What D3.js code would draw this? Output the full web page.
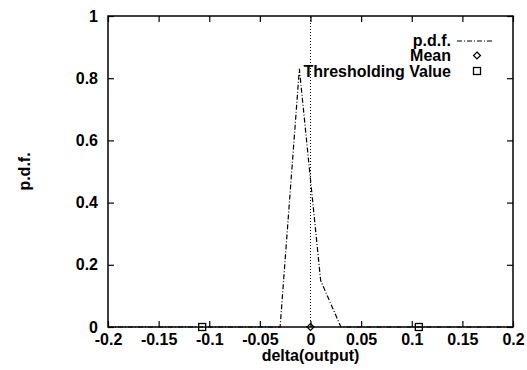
<!DOCTYPE html>
<html>
<head>
<meta charset="utf-8">
<script src="https://cdn.jsdelivr.net/npm/d3@7"></script>
<style>
  body { margin: 0; background: #fff; }
  text { font-family: "Liberation Sans", Arial, sans-serif; font-size: 16px; font-weight: bold; fill: #000; }
</style>
</head>
<body>
<div id="chart-area"></div>
<script>
// data
const xTicks = [-0.2, -0.15, -0.1, -0.05, 0, 0.05, 0.1, 0.15, 0.2];
const xTickLabels = ["-0.2", "-0.15", "-0.1", "-0.05", "0", "0.05", "0.1", "0.15", "0.2"];
const yTicks = [0, 0.2, 0.4, 0.6, 0.8, 1];
const yTickLabels = ["0", "0.2", "0.4", "0.6", "0.8", "1"];

const pdfX = [-0.2, -0.03, -0.011, 0.01, 0.03, 0.2];
const pdfY = [0, 0, 0.83, 0.15, 0, 0];
const meanX = [0];
const meanY = [0];
const threshX = [-0.107, 0.107];
const threshY = [0, 0];

const legendNames = ["p.d.f.", "Mean", "Thresholding Value"];

let margin = {left: 108, right: 14, top: 16, bottom: 43};
let width = 527 - margin.left - margin.right;
let height = 370 - margin.top - margin.bottom;

let svg = d3.select("#chart-area")
    .append("svg")
    .attr("width", 527)
    .attr("height", 370);

let g = svg.append("g")
    .attr("transform", "translate(" + margin.left + "," + margin.top + ")");

let x = d3.scaleLinear().domain([-0.2, 0.2]).range([0, width]);
let y = d3.scaleLinear().domain([0, 1]).range([height, 0]);

// ticks point inward on all four sides
g.append("g")
    .attr("transform", "translate(0," + height + ")")
    .call(d3.axisBottom(x).tickValues(xTicks).tickSizeInner(-6).tickSizeOuter(0).tickPadding(7)
        .tickFormat(function(d, i){ return xTickLabels[i]; }));
g.append("g")
    .call(d3.axisTop(x).tickValues(xTicks).tickSizeInner(-6).tickSizeOuter(0).tickFormat(""));
g.append("g")
    .call(d3.axisLeft(y).tickValues(yTicks).tickSizeInner(-6).tickSizeOuter(0).tickPadding(10)
        .tickFormat(function(d, i){ return yTickLabels[i]; }));
g.append("g")
    .attr("transform", "translate(" + width + ",0)")
    .call(d3.axisRight(y).tickValues(yTicks).tickSizeInner(-6).tickSizeOuter(0).tickFormat(""));

g.selectAll(".domain").remove();
g.selectAll(".tick line").attr("stroke", "#000").attr("stroke-width", 1.2);
g.selectAll(".tick text").attr("font-family", null).attr("font-size", null);

// frame
g.append("rect")
    .attr("x", 0).attr("y", 0)
    .attr("width", width).attr("height", height)
    .attr("fill", "none")
    .attr("stroke", "#000")
    .attr("stroke-width", 1.5);

// dotted zero line
g.append("line")
    .attr("x1", x(0)).attr("x2", x(0))
    .attr("y1", y(0)).attr("y2", y(1))
    .attr("stroke", "#000")
    .attr("stroke-width", 1)
    .attr("stroke-dasharray", "1,2");

// pdf curve
let pdf = pdfX.map(function(d, i){ return [d, pdfY[i]]; });
let line = d3.line()
    .x(function(d){ return x(d[0]); })
    .y(function(d){ return y(d[1]); });

g.append("path")
    .datum(pdf)
    .attr("d", line)
    .attr("fill", "none")
    .attr("stroke", "#000")
    .attr("stroke-width", 1.2)
    .attr("stroke-dasharray", "5,2,1,2");

// mean
g.selectAll(".mean")
    .data(meanX)
    .enter()
    .append("path")
    .attr("class", "mean")
    .attr("d", d3.symbol().type(d3.symbolDiamond2).size(30))
    .attr("transform", function(d, i){ return "translate(" + x(d) + "," + y(meanY[i]) + ")"; })
    .attr("fill", "none")
    .attr("stroke", "#000")
    .attr("stroke-width", 1.3);

// thresholding values
g.selectAll(".thresh")
    .data(threshX)
    .enter()
    .append("rect")
    .attr("class", "thresh")
    .attr("x", function(d){ return x(d) - 3.5; })
    .attr("y", function(d, i){ return y(threshY[i]) - 3.5; })
    .attr("width", 7)
    .attr("height", 7)
    .attr("fill", "none")
    .attr("stroke", "#000")
    .attr("stroke-width", 1.3);

// axis labels
g.append("text")
    .text("delta(output)")
    .attr("x", x(0))
    .attr("y", height + 34)
    .attr("text-anchor", "middle");

g.append("text")
    .text("p.d.f.")
    .attr("x", -(height / 2))
    .attr("y", -(margin.left - 30))
    .attr("transform", "rotate(-90)")
    .attr("text-anchor", "middle");

// legend
let legend = g.append("g").attr("transform", "translate(" + (451 - margin.left) + "," + (40 - margin.top) + ")");
legendNames.forEach(function(name, i){
    legend.append("text")
        .text(name)
        .attr("x", 0)
        .attr("y", i * 15.5)
        .attr("dy", "0.35em")
        .attr("text-anchor", "end");
});
legend.append("line")
    .attr("x1", 6).attr("x2", 42)
    .attr("y1", 1).attr("y2", 1)
    .attr("stroke", "#000")
    .attr("stroke-width", 1.2)
    .attr("stroke-dasharray", "5,2,1,2");
legend.append("path")
    .attr("d", d3.symbol().type(d3.symbolDiamond2).size(30))
    .attr("transform", "translate(26," + 15.5 + ")")
    .attr("fill", "none")
    .attr("stroke", "#000")
    .attr("stroke-width", 1.3);
legend.append("rect")
    .attr("x", 26 - 3.5).attr("y", 31 - 3.5)
    .attr("width", 7).attr("height", 7)
    .attr("fill", "none")
    .attr("stroke", "#000")
    .attr("stroke-width", 1.3);
</script>
</body>
</html>
